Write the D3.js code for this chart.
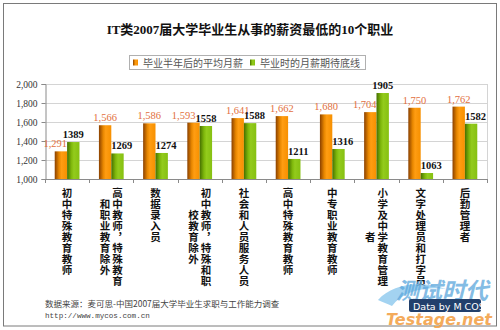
<!DOCTYPE html>
<html>
<head>
<meta charset="utf-8">
<script src="https://cdn.jsdelivr.net/npm/d3@7"></script>
<style>
  html, body { margin: 0; padding: 0; background: #fff; }
</style>
</head>
<body>
<div id="chart"></div>
<script>
// IT类2007届毕业生薪资最低的10个职业
const categories = ["初中特殊教育教师", "高中教师，特殊教育和职业教育除外", "数据录入员",
  "初中教师，特殊和职校教育除外", "社会和人员服务人员", "高中特殊教育教师",
  "中专职业教育教师", "小学及中学教育管理者", "文字处理员和打字员", "后勤管理者"];
const avgSalary   = [1291, 1566, 1586, 1593, 1641, 1662, 1680, 1704, 1750, 1762];
const expectedMin = [1389, 1269, 1274, 1558, 1588, 1211, 1316, 1905, 1063, 1582];
const seriesNames = ["毕业半年后的平均月薪", "毕业时的月薪期待底线"];
const yTicks = [1000, 1200, 1400, 1600, 1800, 2000];

const width = 500, height = 330;
const plotL = 45, plotR = 487, plotT = 84, plotB = 179;
const cjk = "'Noto Sans CJK SC', sans-serif";
const serif = "'Liberation Serif', 'Times New Roman', 'Noto Sans CJK SC', serif";

const svg = d3.select("#chart").append("svg")
  .attr("width", width).attr("height", height);

// bar shading, dark left edge like the old office charts
const defs = svg.append("defs");
function shade(id, stops) {
  const lg = defs.append("linearGradient").attr("id", id)
    .attr("x1", "0%").attr("x2", "100%").attr("y1", "0%").attr("y2", "0%");
  stops.forEach(s => lg.append("stop").attr("offset", s[0]).style("stop-color", s[1]));
}
shade("gOrange", [["0%", "#8a4000"], ["35%", "#e88700"], ["55%", "#ff9d12"], ["100%", "#f79000"]]);
shade("gGreen", [["0%", "#456f00"], ["35%", "#7fb80c"], ["55%", "#93cb1c"], ["100%", "#86c012"]]);
const fills = ["url(#gOrange)", "url(#gGreen)"];

// outer frame
svg.append("rect").attr("x", 3.5).attr("y", 3.5).attr("width", 493).attr("height", 322.5)
  .attr("fill", "#fff").attr("stroke", "#7a7a7a");

// title
svg.append("text").attr("x", 250).attr("y", 34).attr("text-anchor", "middle")
  .style("font-family", serif).style("font-weight", "bold").style("font-size", "13px")
  .attr("fill", "#111")
  .text("IT类2007届大学毕业生从事的薪资最低的10个职业");

// legend
const legend = svg.append("g");
legend.append("rect").attr("x", 129.5).attr("y", 55.5).attr("width", 236).attr("height", 14)
  .attr("fill", "#fff").attr("stroke", "#b0b0b0");
const legX = [133, 250];
seriesNames.forEach((name, i) => {
  legend.append("rect").attr("x", legX[i]).attr("y", 59.5).attr("width", 5).attr("height", 6)
    .attr("fill", fills[i]);
  legend.append("text").attr("x", legX[i] + 10).attr("y", 66.5)
    .style("font-family", cjk).style("font-size", "10px").attr("fill", "#555")
    .text(name);
});

// scales
const x0 = d3.scaleBand().domain(categories).range([plotL, plotR]);
const x1 = d3.scaleBand().domain(["avg", "exp"])
  .range([x0.bandwidth() * 0.22, x0.bandwidth() * 0.78]);
const y = d3.scaleLinear().domain([1000, 2000]).range([plotB, plotT]);

// grid
svg.append("g").selectAll("line").data(yTicks.slice(1)).join("line")
  .attr("x1", plotL).attr("x2", plotR)
  .attr("y1", d => Math.round(y(d)) + 0.5).attr("y2", d => Math.round(y(d)) + 0.5)
  .attr("stroke", "#d4d4d4");
svg.append("line").attr("x1", plotR + 0.5).attr("x2", plotR + 0.5)
  .attr("y1", plotT).attr("y2", plotB).attr("stroke", "#d4d4d4");

// y axis
const yAxis = svg.append("g").attr("transform", `translate(${plotL + 0.5},0)`)
  .call(d3.axisLeft(y).tickValues(yTicks).tickFormat(d3.format(",")).tickSize(4).tickPadding(4));
yAxis.select(".domain").attr("stroke", "#8a8a8a");
yAxis.selectAll(".tick line").attr("stroke", "#8a8a8a");
yAxis.selectAll(".tick text").style("font-family", serif).style("font-size", "9.5px").attr("fill", "#333");

// x axis line and the small ticks between categories
svg.append("line").attr("x1", plotL).attr("x2", plotR + 1)
  .attr("y1", plotB + 0.5).attr("y2", plotB + 0.5).attr("stroke", "#8a8a8a");
const bounds = categories.map(c => x0(c)).concat([plotR]);
svg.append("g").selectAll("line").data(bounds).join("line")
  .attr("x1", d => Math.round(d) + 0.5).attr("x2", d => Math.round(d) + 0.5)
  .attr("y1", plotB).attr("y2", plotB + 4).attr("stroke", "#8a8a8a");

// bars
const rows = categories.map((c, i) => ({ c, vals: [avgSalary[i], expectedMin[i]] }));
const groups = svg.append("g").selectAll("g").data(rows).join("g")
  .attr("transform", d => `translate(${x0(d.c)},0)`);
groups.selectAll("rect").data(d => d.vals.map((v, k) => ({ k, v }))).join("rect")
  .attr("x", d => x1(d.k ? "exp" : "avg"))
  .attr("y", d => y(d.v))
  .attr("width", x1.bandwidth())
  .attr("height", d => plotB - y(d.v))
  .attr("fill", d => fills[d.k]);

// value labels, nudged sideways so they don't sit on the neighbour bar
const lblGap = 4, lblH = 6;
const labels = svg.append("g");
rows.forEach((r, i) => {
  const bw = x1.bandwidth();
  const xa = x0(r.c) + x1("avg"), xg = x0(r.c) + x1("exp");
  const ya = y(avgSalary[i]), yg = y(expectedMin[i]);
  const ta = labels.append("text").text(d3.format(",")(avgSalary[i]))
    .attr("y", ya - lblGap).attr("text-anchor", "middle")
    .style("font-family", serif).style("font-size", "10.5px").attr("fill", "#e2703e");
  const tg = labels.append("text").text(expectedMin[i])
    .attr("y", yg - lblGap).attr("text-anchor", "middle")
    .style("font-family", serif).style("font-size", "10.5px").style("font-weight", "bold")
    .attr("fill", "#111");
  const wa = ta.node().getComputedTextLength(), wg = tg.node().getComputedTextLength();
  let ca = xa + bw / 2, cg = xg + bw / 2;
  const aBot = ya - lblGap, aTop = aBot - lblH, gBot = yg - lblGap, gTop = gBot - lblH;
  if (yg < aBot) ca = Math.min(ca, xg - wa / 2);
  if (ya < gBot) cg = Math.max(cg, xa + bw + wg / 2);
  if (aTop < gBot - 2 && gTop < aBot - 2) {
    const over = (ca + wa / 2) - (cg - wg / 2);
    if (over > 0) ca -= over;
  }
  ta.attr("x", ca);
  tg.attr("x", cg);
});

// category names, written top to bottom, 9 characters per column, columns right to left
const perCol = 9, pitch = 11, colStep = 12.5, firstTop = 187.5;
const catG = svg.append("g");
categories.forEach(c => {
  const chars = Array.from(c);
  const cols = [];
  for (let k = 0; k < chars.length; k += perCol) cols.push(chars.slice(k, k + perCol).join(""));
  const cx = x0(c) + x0.bandwidth() / 2;
  cols.forEach((col, k) => {
    const colX = cx + (cols.length - 1) / 2 * colStep - k * colStep;
    const shift = (Array.from(cols[0]).length - Array.from(col).length) / 2;
    catG.append("text").attr("x", colX).attr("y", firstTop + shift * pitch)
      .style("writing-mode", "vertical-rl")
      .style("font-family", cjk).style("font-weight", "bold").style("font-size", "10.5px")
      .style("letter-spacing", (pitch - 10.5) + "px")
      .attr("fill", "#111").text(col);
  });
});

// source note
svg.append("text").attr("x", 45).attr("y", 307)
  .style("font-family", cjk).style("font-size", "8.5px").attr("fill", "#444")
  .text("数据来源：麦可思-中国2007届大学毕业生求职与工作能力调查");
svg.append("text").attr("x", 45).attr("y", 318)
  .style("font-family", "'Liberation Mono', 'DejaVu Sans Mono', monospace").style("font-size", "7.6px")
  .attr("fill", "#444").text("http://www.mycos.com.cn");

// site stamp in the corner
const wm = svg.append("g");
wm.append("path")
  .attr("d", "M378,300 C392,284 420,280 446,289 C424,286 402,292 392,306 C388,304 382,302 378,300 Z")
  .attr("fill", "#8cc8ee").attr("opacity", 0.8);
wm.append("text").attr("x", 396).attr("y", 299)
  .style("font-family", cjk).style("font-size", "23px").style("font-style", "italic")
  .style("font-weight", "bold").attr("fill", "#5aa6dc").attr("opacity", 0.75)
  .text("测试时代");
wm.append("rect").attr("x", 409).attr("y", 299).attr("width", 72).attr("height", 13)
  .attr("rx", 2).attr("fill", "#22406c");
wm.append("text").attr("x", 413).attr("y", 309.5)
  .style("font-family", "'DejaVu Sans', sans-serif").style("font-size", "9.5px")
  .attr("fill", "#fff").text("Data by M COS");
wm.append("text").attr("x", 386).attr("y", 325)
  .style("font-family", "'DejaVu Sans', sans-serif").style("font-size", "16px")
  .style("font-weight", "bold").style("font-style", "italic")
  .attr("fill", "#f3a24a").attr("opacity", 0.9).text("Testage.net");
</script>
</body>
</html>
